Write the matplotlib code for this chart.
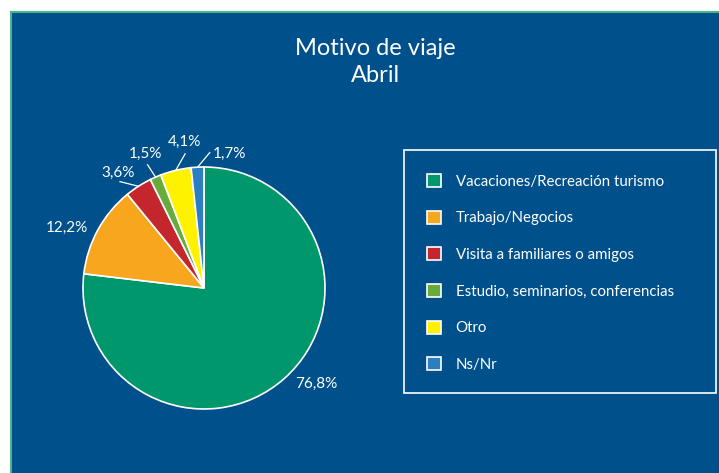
import numpy as np
import matplotlib.pyplot as plt
from matplotlib.patches import Rectangle

# datos
categorias = ['Vacaciones/Recreación turismo', 'Trabajo/Negocios', 'Visita a familiares o amigos',
              'Estudio, seminarios, conferencias', 'Otro', 'Ns/Nr']
porcentajes = [76.8, 12.2, 3.6, 1.5, 4.1, 1.7]
colores = ['#00976C', '#F7A61D', '#C4262E', '#67AB3D', '#FFF200', '#2B7FC1']
titulo = 'Motivo de viaje\nAbril'

fondo = '#00508C'
plt.rcParams['font.family'] = ['Lato', 'DejaVu Sans']

W, H = 719, 473
fig = plt.figure(figsize=(W / 100, H / 100), dpi=100, facecolor='white')

# fondo azul con borde verde
bg = fig.add_axes([11 / W, 0, 1 - 11 / W, 1 - 12 / H], zorder=-1)
bg.set_facecolor(fondo)
bg.set_xticks([]); bg.set_yticks([])
for s in ['right', 'bottom']:
    bg.spines[s].set_visible(False)
for s in ['top', 'left']:
    bg.spines[s].set_color('#4DB38A')
    bg.spines[s].set_linewidth(1.5)

fig.text(375 / W, 1 - 62 / H, titulo, ha='center', va='center', color='white',
         fontsize=17, linespacing=1.3)

# pastel
cx, cy, r = 204, 288, 121
ax = fig.add_axes([(cx - r) / W, (H - cy - r) / H, 2 * r / W, 2 * r / H])
wedges, _ = ax.pie(porcentajes, colors=colores, startangle=90, counterclock=False,
                   wedgeprops=dict(edgecolor='white', linewidth=1.2))
ax.set_xlim(-1, 1); ax.set_ylim(-1, 1)
ax.set_aspect('equal')

# etiquetas
desplaz = [8, 5, 4, 0, -6, -14]          # ajuste de angulo (grados)
dist = [1.22, 1.24, 1.19, 1.21, 1.22, 1.13]
lineas = [None, None, 5.5, 1, -5.5, -5.5]  # angulo del extremo de la linea guia
for w, p, d, rr, ln in zip(wedges, porcentajes, desplaz, dist, lineas):
    mid = np.deg2rad((w.theta1 + w.theta2) / 2)
    lab = mid + np.deg2rad(d)
    ax.text(rr * np.cos(lab), rr * np.sin(lab), f'{p:.1f}%'.replace('.', ','),
            ha='center', va='center', color='white', fontsize=11)
    if ln is not None:
        fin = mid + np.deg2rad(ln)
        ax.plot([np.cos(mid), 1.12 * np.cos(fin)], [np.sin(mid), 1.12 * np.sin(fin)],
                color='white', lw=0.9, clip_on=False)

# leyenda
fig.patches.append(Rectangle((404 / W, 1 - 393 / H), 312 / W, 243 / H, transform=fig.transFigure,
                             facecolor='none', edgecolor='white', lw=1.2))
leg = fig.legend(wedges, categorias, loc='center left', bbox_to_anchor=(413 / W, 1 - 273 / H),
                 frameon=False, fontsize=10.8, labelcolor='white', handlelength=0.95,
                 handleheight=0.95, handletextpad=1.0, labelspacing=1.47)

fig.savefig('out.png', dpi=100, facecolor='white')
